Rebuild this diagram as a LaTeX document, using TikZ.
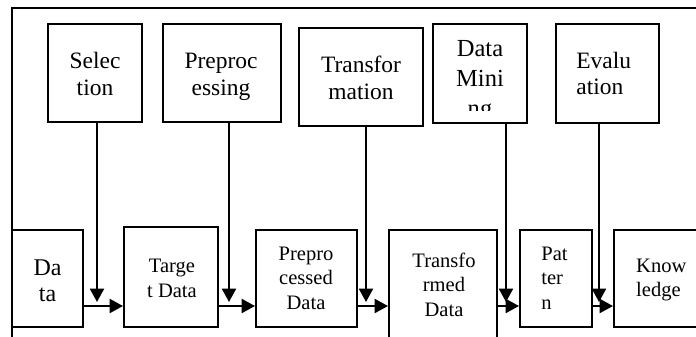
\documentclass[tikz,border=0pt]{standalone}
\usepackage{fontspec}
\setmainfont{Liberation Serif}
\usetikzlibrary{arrows.meta,fit}

\tikzset{every picture/.style={line width=1.5pt}}
\tikzset{
  box/.style={draw, inner sep=0pt},
  toptxt/.style={inner sep=0pt, align=center, font=\fontsize{17.6}{20}\selectfont},
  lowtxt/.style={inner sep=0pt, align=center, font=\fontsize{15.4}{18.5}\selectfont},
  flow/.style={-{Triangle[length=10pt,width=10.5pt]}}
}

\begin{document}
\begin{tikzpicture}[x=0.75pt,y=0.75pt,yscale=-1,xscale=1]
\useasboundingbox (0,0) rectangle (696,336);

%Straight Lines (frame)
\draw (700,8) -- (11.7,8) -- (11.7,340) ;

%Shape: Rectangle (steps)
\node [box, fit={(48,24) (142,122)}] (selBox) {};
\node [box, fit={(163,24) (281,122)}] (preBox) {};
\node [box, fit={(299,28) (423,126)}] (trfBox) {};
\node [box, fit={(433,24) (527,123)}] (minBox) {};
\node [box, fit={(556,24) (659,123)}] (evaBox) {};

%Shape: Rectangle (data)
\node [box, fit={(12,230) (83,327)}] (dataBox) {};
\node [box, fit={(124,227) (218,327)}] (targetBox) {};
\node [box, fit={(256,230) (357,327)}] (prepBox) {};
\node [box, fit={(389,230) (497,345)}] (transBox) {};
\node [box, fit={(520,230) (592,327)}] (patBox) {};
\node [box, fit={(614,230) (712,327)}] (knowBox) {};

% Text Node
\node [toptxt] (selText) at (95,74) {Selec\\tion};
% Text Node
\node [toptxt] (preText) at (221,76.8) {Preproc\\essing};
% Text Node
\node [toptxt] (trfText) at (361,78) {Transfor\\mation};
% Text Node
\begin{scope}
\clip (433,24) rectangle (527,110);
\node [toptxt, font=\fontsize{18.4}{22.5}\selectfont] (minText) at (480,81) {Data\\Mini\\ng};
\end{scope}
% Text Node
\node [toptxt, align=left] (evaText) at (603.7,73.5) {Evalu\\ation};

% Text Node
\node [lowtxt, font=\fontsize{18}{19.3}\selectfont] (dataText) at (47.5,281) {Da\\ta};
% Text Node
\node [lowtxt] (targetText) at (172,278.7) {Targe\\t Data};
% Text Node
\node [lowtxt] (prepText) at (306,278.3) {Prepro\\cessed\\Data};
% Text Node
\node [lowtxt] (transText) at (444,284.7) {Transfo\\rmed\\Data};
% Text Node
\node [lowtxt, align=left] (patText) at (554.5,278) {Pat\\ter\\n};
% Text Node
\node [lowtxt, align=left] (knowText) at (661.3,280) {Know\\ledge};

%Straight Lines (arrows down)
\coordinate (selTip) at (97,302);
\coordinate (preTip) at (229,302);
\coordinate (trfTip) at (366,302);
\coordinate (minTip) at (506,302);
\coordinate (evaTip) at (599,302);
\draw [flow] (selBox.south -| selTip) -- (selTip) ;
\draw [flow] (preBox.south -| preTip) -- (preTip) ;
\draw [flow] (trfBox.south -| trfTip) -- (trfTip) ;
\draw [flow] (minBox.south -| minTip) -- (minTip) ;
\draw [flow] (evaBox.south -| evaTip) -- (evaTip) ;

%Straight Lines (arrows across)
\coordinate (mainLine) at (0,306);
\draw [flow] (dataBox.east |- mainLine) -- (targetBox.west |- mainLine) ;
\draw [flow] (targetBox.east |- mainLine) -- (prepBox.west |- mainLine) ;
\draw [flow] (prepBox.east |- mainLine) -- (transBox.west |- mainLine) ;
\draw [flow] (transBox.east |- mainLine) -- (patBox.west |- mainLine) ;
\draw [flow] (patBox.east |- mainLine) -- (knowBox.west |- mainLine) ;
\end{tikzpicture}
\end{document}
